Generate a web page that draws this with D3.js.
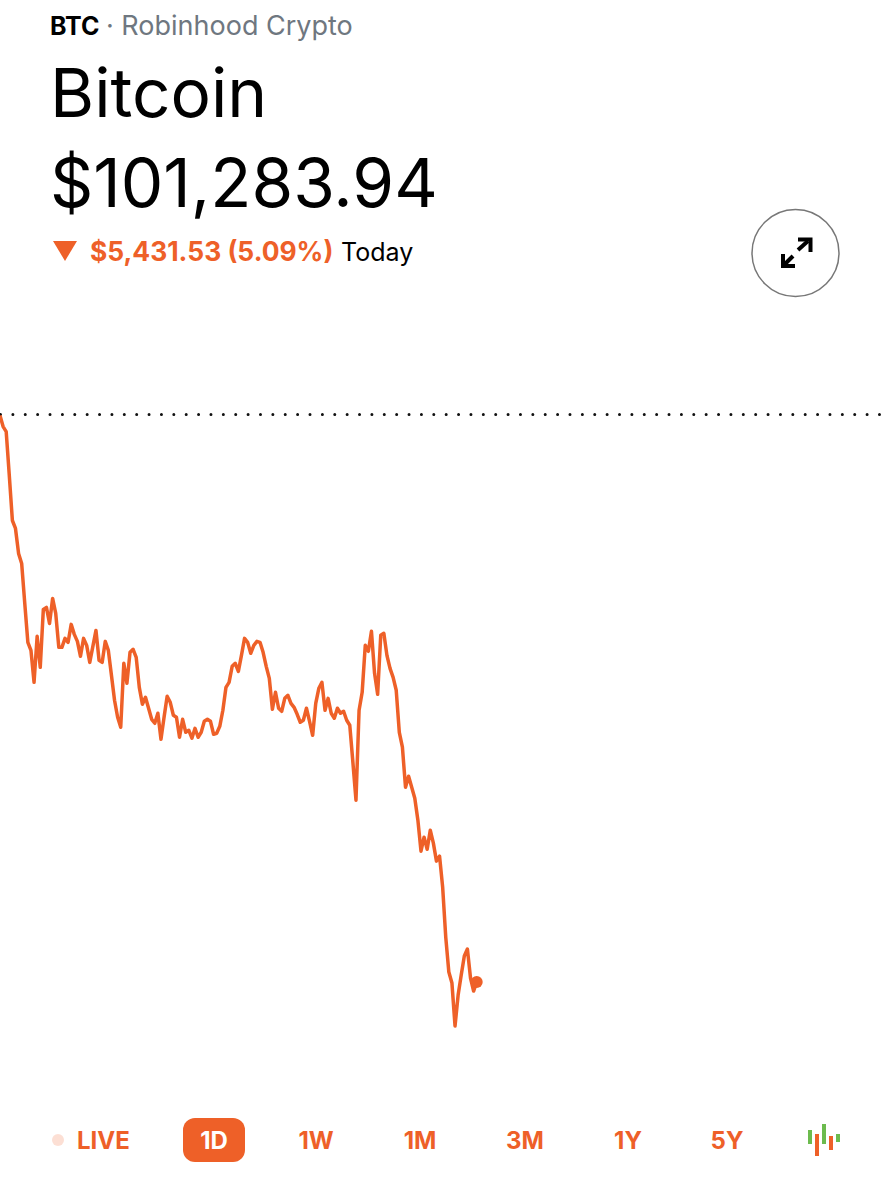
<!DOCTYPE html>
<html>
<head>
<meta charset="utf-8">
<script src="https://cdn.jsdelivr.net/npm/d3@7"></script>
<style>
  html, body { margin: 0; padding: 0; background: #fff; }
  svg { display: block; }
  text { font-family: Inter, "Noto Sans", sans-serif; }
</style>
</head>
<body>
<div id="chart"></div>
<script>
// BTC price for the day
const prices = [
  106705, 106600, 106552, 106132, 105701, 105625, 105386, 105290, 104908, 104535,
  104458, 104152, 104592, 104296, 104850, 104869, 104716, 104955, 104812, 104487,
  104487, 104573, 104535, 104707, 104611, 104544, 104401, 104573, 104506, 104343,
  104496, 104649, 104363, 104343, 104544, 104458, 104219, 103980, 103818, 103722,
  104334, 104143, 104439, 104468, 104391, 104104, 103942, 104009, 103904, 103798,
  103760, 103856, 103607, 103818, 104018, 103961, 103837, 103818, 103626, 103798,
  103674, 103693, 103617, 103712, 103626, 103674, 103779, 103798, 103779, 103655,
  103665, 103731, 103885, 104104, 104152, 104305, 104334, 104257, 104410, 104573,
  104535, 104430, 104506, 104544, 104535, 104439, 104305, 104190, 103894, 104057,
  103904, 103875, 103999, 104028, 103951, 103913, 103846, 103770, 103789, 103904,
  103779, 103645, 103951, 104095, 104152, 103885, 103999, 103856, 103808, 103904,
  103856, 103875, 103789, 103741, 103387, 103024, 103885, 104057, 104506, 104449,
  104640, 104238, 104037, 104602, 104621, 104410, 104286, 104200, 104076, 103674,
  103531, 103148, 103253, 103148, 103043, 102833, 102536, 102670, 102555, 102737,
  102613, 102441, 102488, 102192, 101714, 101379, 101274, 100863, 101159, 101350,
  101532, 101599, 101322, 101197, 101284
];
const prevClose = 106715.47;
const lastPrice = 101283.94;

const ranges = ["1D", "1W", "1M", "3M", "1Y", "5Y"];
const rangeCenters = [214, 316, 420, 525, 628, 727];

// little candle icon at the end of the range bar
const candleLow = [1144, 1156, 1144, 1150, 1142];
const candleHigh = [1130, 1134, 1124, 1136, 1134];
const candleColors = ["#6cbb4e", "#ee6028", "#6cbb4e", "#ee6028", "#6cbb4e"];

const orange = "#ee6028";
const width = 888;
const height = 1200;

const svg = d3.select("#chart").append("svg")
  .attr("width", width)
  .attr("height", height);

svg.append("rect")
  .attr("width", width)
  .attr("height", height)
  .attr("fill", "#fff");

// Header
svg.append("text").attr("x", 50).attr("y", 35)
  .attr("font-size", 25).attr("font-weight", 700).attr("fill", "#000").text("BTC");

svg.append("text").attr("x", 106).attr("y", 35)
  .attr("font-size", 27).attr("fill", "#6f7780").text("· Robinhood Crypto");

svg.append("text").attr("x", 50).attr("y", 117)
  .attr("font-size", 67.5).attr("fill", "#000").text("Bitcoin");

svg.append("text").attr("x", 50).attr("y", 207)
  .attr("font-size", 67.5).attr("fill", "#000").text("$101,283.94");

svg.append("path")
  .attr("d", "M53,241L77,241L65,261Z")
  .attr("fill", orange);

svg.append("text").attr("x", 90).attr("y", 261)
  .attr("font-size", 26.4).attr("font-weight", 700).attr("fill", orange)
  .text("$5,431.53 (5.09%)");

svg.append("text").attr("x", 341).attr("y", 261)
  .attr("font-size", 25).attr("fill", "#000").text("Today");

// Expand button
svg.append("circle")
  .attr("cx", 795.5).attr("cy", 253).attr("r", 43.5)
  .attr("fill", "#fff").attr("stroke", "#777").attr("stroke-width", 1.5);

const arrows = svg.append("g").attr("stroke", "#000").attr("fill", "none").attr("stroke-width", 4);
arrows.append("path").attr("d", "M798,250L808,241");
arrows.append("path").attr("d", "M784,265L793,256");
arrows.append("path").attr("d", "M798,239.5L810.5,239.5L810.5,252");
arrows.append("path").attr("d", "M783,254L783,266L795,266");

// Scales
const x = d3.scaleLinear().domain([0, prices.length - 1]).range([0, 476.7]);
const y = d3.scaleLinear().domain([prevClose, lastPrice]).range([414.5, 982]);

// Previous close dots
svg.append("line")
  .attr("x1", 0.5).attr("x2", width)
  .attr("y1", y(prevClose)).attr("y2", y(prevClose))
  .attr("stroke", "#111")
  .attr("stroke-width", 3)
  .attr("stroke-linecap", "round")
  .attr("stroke-dasharray", "0 12.38");

// Price line
const line = d3.line()
  .x((d, i) => x(i))
  .y(d => y(d));

svg.append("path")
  .datum(prices)
  .attr("d", line)
  .attr("fill", "none")
  .attr("stroke", orange)
  .attr("stroke-width", 3.5)
  .attr("stroke-linejoin", "round");

svg.append("circle")
  .attr("cx", x(prices.length - 1))
  .attr("cy", y(lastPrice))
  .attr("r", 6)
  .attr("fill", orange);

// Range bar
svg.append("circle")
  .attr("cx", 58).attr("cy", 1140).attr("r", 6)
  .attr("fill", orange).attr("opacity", 0.2);

svg.append("text").attr("x", 77).attr("y", 1149)
  .attr("font-size", 24).attr("font-weight", 700).attr("fill", orange)
  .text("LIVE");

svg.append("rect")
  .attr("x", 183).attr("y", 1118).attr("width", 62).attr("height", 44).attr("rx", 12)
  .attr("fill", orange);

svg.selectAll("text.range")
  .data(ranges)
  .enter().append("text")
  .attr("class", "range")
  .attr("x", (d, i) => rangeCenters[i])
  .attr("y", 1149)
  .attr("text-anchor", "middle")
  .attr("font-size", 24)
  .attr("font-weight", 700)
  .attr("fill", (d, i) => i === 0 ? "#fff" : orange)
  .text(d => d);

svg.selectAll("rect.candle")
  .data(candleLow)
  .enter().append("rect")
  .attr("class", "candle")
  .attr("x", (d, i) => 808 + i * 7)
  .attr("y", (d, i) => candleHigh[i])
  .attr("width", 4)
  .attr("height", (d, i) => d - candleHigh[i])
  .attr("fill", (d, i) => candleColors[i]);
</script>
</body>
</html>
